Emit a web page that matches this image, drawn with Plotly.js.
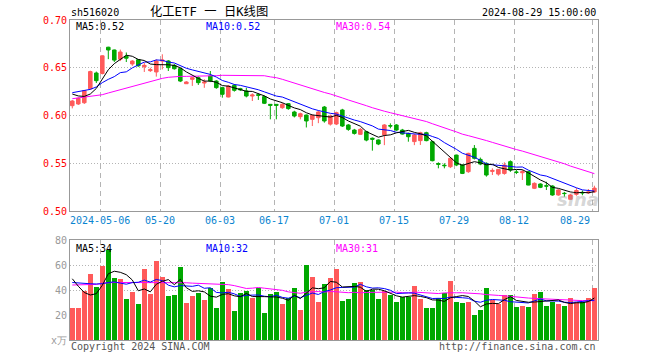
<!DOCTYPE html>
<html><head><meta charset="utf-8">
<script src="https://cdn.plot.ly/plotly-3.0.1.min.js"></script>
<style>html,body{margin:0;padding:0;background:#fff}#chart{width:660px;height:360px}</style>
</head><body><div id="chart"></div>
<script>
const dates = ['2024-04-24','2024-04-25','2024-04-26','2024-04-29','2024-04-30',
'2024-05-06','2024-05-07','2024-05-08','2024-05-09','2024-05-10','2024-05-13','2024-05-14','2024-05-15','2024-05-16','2024-05-17',
'2024-05-20','2024-05-21','2024-05-22','2024-05-23','2024-05-24','2024-05-27','2024-05-28','2024-05-29','2024-05-30','2024-05-31',
'2024-06-03','2024-06-04','2024-06-05','2024-06-06','2024-06-07','2024-06-11','2024-06-12','2024-06-13','2024-06-14',
'2024-06-17','2024-06-18','2024-06-19','2024-06-20','2024-06-21','2024-06-24','2024-06-25','2024-06-26','2024-06-27','2024-06-28',
'2024-07-01','2024-07-02','2024-07-03','2024-07-04','2024-07-05','2024-07-08','2024-07-09','2024-07-10','2024-07-11','2024-07-12',
'2024-07-15','2024-07-16','2024-07-17','2024-07-18','2024-07-19','2024-07-22','2024-07-23','2024-07-24','2024-07-25','2024-07-26',
'2024-07-29','2024-07-30','2024-07-31','2024-08-01','2024-08-02','2024-08-05','2024-08-06','2024-08-07','2024-08-08','2024-08-09',
'2024-08-12','2024-08-13','2024-08-14','2024-08-15','2024-08-16','2024-08-19','2024-08-20','2024-08-21','2024-08-22','2024-08-23',
'2024-08-26','2024-08-27','2024-08-28','2024-08-29'];

const openP = [0.6103,0.6121,0.6134,0.6280,0.6445,0.6440,0.6715,0.6686,0.6590,0.6620,
0.6540,0.6585,0.6510,0.6470,0.6456,0.6570,0.6571,0.6525,0.6491,0.6333,
0.6379,0.6396,0.6340,0.6414,0.6361,0.6292,0.6194,0.6316,0.6281,0.6257,
0.6204,0.6218,0.6198,0.6117,0.6117,0.6082,0.6124,0.6037,0.5988,0.6005,
0.5960,0.5977,0.6089,0.5910,0.5911,0.6058,0.5901,0.5848,0.5803,0.5831,
0.5762,0.5744,0.5796,0.5894,0.5901,0.5848,0.5813,0.5727,0.5737,0.5820,
0.5726,0.5497,0.5480,0.5464,0.5586,0.5482,0.5412,0.5656,0.5541,0.5499,
0.5415,0.5387,0.5394,0.5517,0.5409,0.5401,0.5412,0.5238,0.5283,0.5265,
0.5262,0.5168,0.5186,0.5123,0.5175,0.5195,0.5190,0.5200];
const highP = [0.6162,0.6190,0.6267,0.6470,0.6460,0.6630,0.6720,0.6690,0.6690,0.6660,
0.6580,0.6590,0.6553,0.6500,0.6588,0.6641,0.6580,0.6540,0.6500,0.6360,
0.6400,0.6410,0.6380,0.6466,0.6370,0.6300,0.6320,0.6330,0.6290,0.6291,
0.6232,0.6230,0.6210,0.6120,0.6120,0.6130,0.6130,0.6050,0.6030,0.6010,
0.6010,0.6050,0.6100,0.6010,0.6040,0.6070,0.5910,0.5860,0.5870,0.5840,
0.5770,0.5750,0.5910,0.5918,0.5910,0.5860,0.5820,0.5810,0.5830,0.5830,
0.5735,0.5510,0.5500,0.5560,0.5590,0.5490,0.5610,0.5691,0.5560,0.5510,
0.5447,0.5440,0.5510,0.5530,0.5430,0.5429,0.5420,0.5300,0.5290,0.5307,
0.5270,0.5230,0.5200,0.5180,0.5240,0.5215,0.5230,0.5265];
const lowP = [0.6075,0.6110,0.6121,0.6270,0.6340,0.6430,0.6590,0.6560,0.6570,0.6560,
0.6520,0.6510,0.6456,0.6456,0.6407,0.6483,0.6466,0.6480,0.6350,0.6330,
0.6310,0.6320,0.6290,0.6350,0.6280,0.6187,0.6190,0.6250,0.6257,0.6190,
0.6152,0.6163,0.6120,0.5960,0.5960,0.6070,0.6060,0.5980,0.5960,0.5875,
0.5890,0.5920,0.5925,0.5895,0.5900,0.5880,0.5840,0.5800,0.5800,0.5730,
0.5632,0.5690,0.5690,0.5866,0.5840,0.5800,0.5726,0.5690,0.5692,0.5730,
0.5520,0.5447,0.5447,0.5450,0.5470,0.5387,0.5400,0.5540,0.5480,0.5360,
0.5377,0.5370,0.5380,0.5410,0.5387,0.5325,0.5270,0.5230,0.5240,0.5220,
0.5160,0.5160,0.5150,0.5120,0.5160,0.5165,0.5180,0.5190];
const closeP = [0.6152,0.6180,0.6260,0.6460,0.6365,0.6625,0.6686,0.6580,0.6665,0.6600,
0.6570,0.6520,0.6525,0.6480,0.6570,0.6580,0.6501,0.6490,0.6361,0.6351,
0.6396,0.6344,0.6350,0.6361,0.6292,0.6222,0.6309,0.6264,0.6270,0.6204,
0.6215,0.6212,0.6128,0.6107,0.6107,0.6117,0.6072,0.5995,0.6019,0.5943,
0.6002,0.6037,0.5943,0.5995,0.6030,0.5890,0.5855,0.5813,0.5855,0.5743,
0.5752,0.5702,0.5901,0.5890,0.5848,0.5806,0.5778,0.5796,0.5820,0.5737,
0.5527,0.5490,0.5475,0.5552,0.5482,0.5394,0.5604,0.5552,0.5492,0.5377,
0.5425,0.5436,0.5482,0.5429,0.5405,0.5412,0.5272,0.5290,0.5248,0.5261,
0.5168,0.5220,0.5183,0.5168,0.5215,0.5190,0.5200,0.5240];
const volume = [25.6,25.6,39.2,52.8,42.1,59.2,71.7,49.3,48.5,32.5,
38.1,28.5,56.5,37.0,62.9,50.1,35.2,36.0,58.4,29.6,
35.2,37.6,31.7,41.3,25.6,46.1,40.5,23.2,37.6,38.9,
33.6,41.8,21.6,36.8,38.1,28.8,33.8,41.3,23.7,59.7,
50.1,30.4,44.8,49.3,56.5,30.9,32.5,45.3,46.1,39.7,
39.7,32.5,38.9,35.7,30.1,34.4,34.4,42.9,32.5,25.3,
25.3,33.8,37.6,46.9,30.1,29.3,30.1,19.7,23.7,41.3,
31.7,29.0,35.7,35.7,26.1,27.4,26.1,36.5,38.1,26.9,
30.1,28.5,26.9,33.3,30.1,30.1,33.3,41.3];

// moving-average values before a full window exists
const ma5Head = [0.6225,0.6205,0.6200,0.6225];
const ma10Head = [0.6239,0.6253,0.6260,0.6274,0.6299,0.6344,0.6379,0.6407,0.6449];
const ma30Head = [0.6176,0.6183,0.6190,0.6197,0.6204,0.6218,0.6236,0.6253,0.6274,0.6292,
0.6309,0.6323,0.6340,0.6358,0.6375,0.6389,0.6400,0.6407,0.6410,0.6410,
0.6410,0.6410,0.6414,0.6417,0.6417,0.6421,0.6421,0.6421,0.6421];
const vma5Head = [49,43,38,36];
const vma10Head = [46,45.5,45,45,44.8,45,46,46.5,45.5];
const vma30Head = [44,44,44,44,44.5,45.5,46,46,46,46,46,46,46,46,46.2,46.2,46,46,46,45.8,
45.5,45.3,45.3,45.3,45,44.6,44.3,43.5,42.5];

const tickDates = ['2024-05-06','2024-05-20','2024-06-03','2024-06-17','2024-07-01','2024-07-15','2024-07-29','2024-08-12','2024-08-29'];
const tickLabels = ['2024-05-06','05-20','06-03','06-17','07-01','07-15','07-29','08-12','08-29'];
const priceTicks = [0.50,0.55,0.60,0.65,0.70];
const volTicks = [0,20,40,60,80];
const volTickText = ['x万','20','40','60','80'];

const RED = '#ff5a5a', GREEN = '#00a800';
const MONO = 'DejaVu Sans Mono, Liberation Mono, monospace';

function movingAvg(arr, n, head) {
  return arr.map((_, i) => {
    if (i < n - 1) return head[i];
    let s = 0; for (let k = i - n + 1; k <= i; k++) s += arr[k];
    return s / n;
  });
}
const xIdx = dates.map((d, i) => i);
const ma5 = movingAvg(closeP, 5, ma5Head), ma10 = movingAvg(closeP, 10, ma10Head), ma30 = movingAvg(closeP, 30, ma30Head);
const vma5 = movingAvg(volume, 5, vma5Head), vma10 = movingAvg(volume, 10, vma10Head), vma30 = movingAvg(volume, 30, vma30Head);
const volColors = xIdx.map(i => closeP[i] >= openP[i] ? RED : GREEN);
const tickIdx = tickDates.map(d => dates.indexOf(d) - 0.33);
const last = dates.length - 1;

const traces = [
  {type:'candlestick', x:xIdx, open:openP, high:highP, low:lowP, close:closeP, xaxis:'x', yaxis:'y',
   increasing:{line:{color:RED,width:1}, fillcolor:RED}, decreasing:{line:{color:GREEN,width:1}, fillcolor:GREEN},
   whiskerwidth:0, hoverinfo:'skip'},
  {type:'scatter', mode:'lines', x:xIdx, y:ma30, line:{color:'#ff00ff',width:1}, xaxis:'x', yaxis:'y', hoverinfo:'skip'},
  {type:'scatter', mode:'lines', x:xIdx, y:ma10, line:{color:'#0000ff',width:1}, xaxis:'x', yaxis:'y', hoverinfo:'skip'},
  {type:'scatter', mode:'lines', x:xIdx, y:ma5, line:{color:'#000000',width:1}, xaxis:'x', yaxis:'y', hoverinfo:'skip'},
  {type:'bar', x:xIdx, y:volume, marker:{color:volColors, line:{width:0}}, width:0.82, xaxis:'x2', yaxis:'y2', hoverinfo:'skip'},
  {type:'scatter', mode:'lines', x:xIdx, y:vma30, line:{color:'#ff00ff',width:1}, xaxis:'x2', yaxis:'y2', hoverinfo:'skip'},
  {type:'scatter', mode:'lines', x:xIdx, y:vma10, line:{color:'#0000ff',width:1}, xaxis:'x2', yaxis:'y2', hoverinfo:'skip'},
  {type:'scatter', mode:'lines', x:xIdx, y:vma5, line:{color:'#000000',width:1}, xaxis:'x2', yaxis:'y2', hoverinfo:'skip'}
];

const xCommon = {range:[-0.383, 87.6], tickvals:tickIdx, showticklabels:false, ticks:'', showgrid:true,
  gridcolor:'#b4b4b4', griddash:'5px,4px', gridwidth:1, zeroline:false, showline:true, mirror:true,
  linecolor:'#999', linewidth:1, rangeslider:{visible:false}, fixedrange:true};

function ann(text, x, y, xanchor, color, extra) {
  return Object.assign({text:text, x:x, y:y, xref:'paper', yref:'paper', xanchor:xanchor, yanchor:'middle',
    showarrow:false, font:{family:MONO, size:10, color:color}, borderpad:0}, extra || {});
}
const annotations = [
  ann('sh516020', 0, 1.022, 'left', '#000'),
  ann('化工ETF 一 日K线图', 0.264, 1.025, 'center', '#000', {font:{family:'DejaVu Sans Mono, Noto Sans CJK SC', size:12.3, color:'#000'}}),
  ann('2024-08-29 15:00:00', 0.998, 1.022, 'right', '#000'),
  ann('MA5:' + ma5[last].toFixed(2), 0.0095, 0.981, 'left', '#000'),
  ann('MA10:' + ma10[last].toFixed(2), 0.255, 0.981, 'left', '#0000ff'),
  ann('MA30:' + ma30[last].toFixed(2), 0.501, 0.981, 'left', '#ff00ff'),
  ann('MA5:' + Math.round(vma5[last]), 0.0095, 0.287, 'left', '#000'),
  ann('MA10:' + Math.round(vma10[last]), 0.255, 0.287, 'left', '#0000ff'),
  ann('MA30:' + Math.round(vma30[last]), 0.501, 0.287, 'left', '#ff00ff'),
  ann('Copyright 2024 SINA.COM', 0, -0.019, 'left', '#555'),
  ann('http://finance.sina.com.cn', 0.998, -0.019, 'right', '#555'),
  {text:'sina', x:0.962, y:0.44, xref:'paper', yref:'paper', xanchor:'center', yanchor:'middle', showarrow:false,
   font:{family:'DejaVu Sans', size:18, color:'rgba(150,150,150,0.4)', style:'italic', weight:'bold'}}
];
tickLabels.forEach((t, k) => {
  const isLast = k === tickLabels.length - 1;
  annotations.push({text:t, x:tickIdx[k], y:0.372, xref:'x', yref:'paper', xanchor:isLast ? 'right' : 'center',
    yanchor:'middle', showarrow:false, xshift:isLast ? -1 : 0, font:{family:MONO, size:10, color:'#0a84d0'}, borderpad:0});
});

const layout = {
  width:660, height:360, margin:{l:70, r:62, t:20, b:20}, paper_bgcolor:'#fff', plot_bgcolor:'#fff',
  showlegend:false, boxgap:0.16, bargap:0,
  xaxis: Object.assign({}, xCommon, {anchor:'y'}),
  xaxis2: Object.assign({}, xCommon, {anchor:'y2'}),
  yaxis: {domain:[0.403,1], range:[0.5,0.7], tickvals:priceTicks, ticktext:priceTicks.map(v => v.toFixed(2)),
    tickfont:{family:MONO, size:10, color:'#ff0000'}, ticks:'', showgrid:true, gridcolor:'#b4b4b4', griddash:'1px,2px',
    zeroline:false, showline:true, mirror:true, linecolor:'#999', linewidth:1, fixedrange:true},
  yaxis2: {domain:[0,0.3125], range:[0,80], tickvals:volTicks, ticktext:volTickText,
    tickfont:{family:MONO, size:10, color:'#999'}, ticks:'', showgrid:true, gridcolor:'#b4b4b4', griddash:'1px,2px',
    zeroline:false, showline:true, mirror:true, linecolor:'#999', linewidth:1, fixedrange:true},
  annotations: annotations
};
Plotly.newPlot('chart', traces, layout, {staticPlot:true, displayModeBar:false});
</script></body></html>
